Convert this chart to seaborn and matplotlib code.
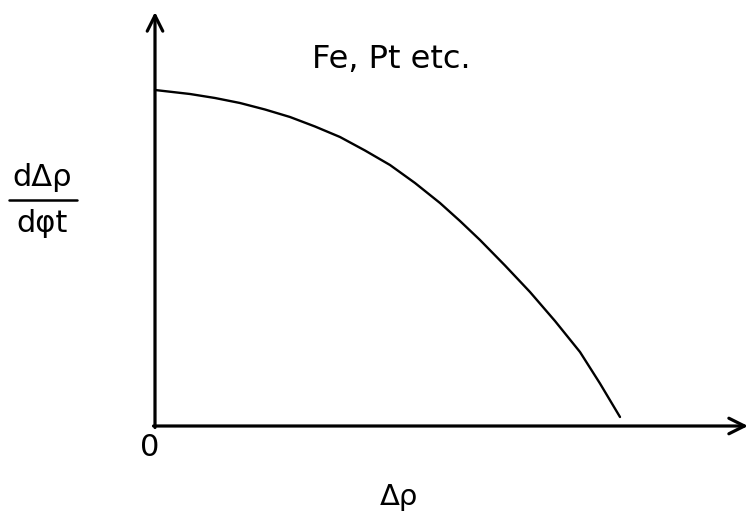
import matplotlib
matplotlib.use("Agg")
import matplotlib.pyplot as plt
import seaborn as sns
import pandas as pd

# Schematic curve: rate of change of resistivity vs. resistivity change
delta_rho = [0.00, 0.35, 0.60, 0.85, 1.10, 1.35, 1.60, 1.85, 2.10, 2.35,
             2.60, 2.85, 3.05, 3.25, 3.50, 3.75, 4.00, 4.25, 4.45, 4.65]
rate = [3.36, 3.32, 3.28, 3.23, 3.165, 3.09, 2.995, 2.89, 2.755, 2.61,
        2.43, 2.23, 2.05, 1.86, 1.605, 1.34, 1.05, 0.74, 0.425, 0.09]

curve_label = "Fe, Pt etc."
x_label = "Δρ"
y_num = "dΔρ"
y_den = "dφt"
origin_label = "0"

sns.set_theme(style="white")
plt.rcParams["font.family"] = ["DejaVu Sans"]
plt.rcParams["text.color"] = "black"

df = pd.DataFrame({"delta_rho": delta_rho, "rate": rate})

fig = plt.figure(figsize=(7.51, 5.17), dpi=100)
ax = fig.add_axes([0, 0, 1, 1])
ax.set_xlim(-1.55, 5.96)
ax.set_ylim(-0.91, 4.26)
ax.axis("off")

sns.lineplot(data=df, x="delta_rho", y="rate", ax=ax, color="black",
             linewidth=1.7, sort=False, solid_joinstyle="round",
             solid_capstyle="round")

# Axes with open arrow heads
arrow = dict(arrowstyle="->", lw=2.3, color="black", mutation_scale=28,
             shrinkA=0, shrinkB=0)
ax.annotate("", xy=(0, 4.14), xytext=(0, -0.015), arrowprops=arrow)
ax.annotate("", xy=(5.93, 0), xytext=(-0.015, 0), arrowprops=arrow)

ax.text(-0.05, -0.22, origin_label, ha="center", va="center", fontsize=22)
ax.text(2.44, -0.71, x_label, ha="center", va="center", fontsize=21)
ax.text(2.36, 3.66, curve_label, ha="center", va="center", fontsize=23)

# Fraction-style y label
ax.text(-1.13, 2.48, y_num, ha="center", va="center", fontsize=22)
ax.plot([-1.46, -0.78], [2.26, 2.26], color="black", lw=1.8)
ax.text(-1.13, 2.03, y_den, ha="center", va="center", fontsize=22)

fig.savefig("out.png", dpi=100, facecolor="white")
